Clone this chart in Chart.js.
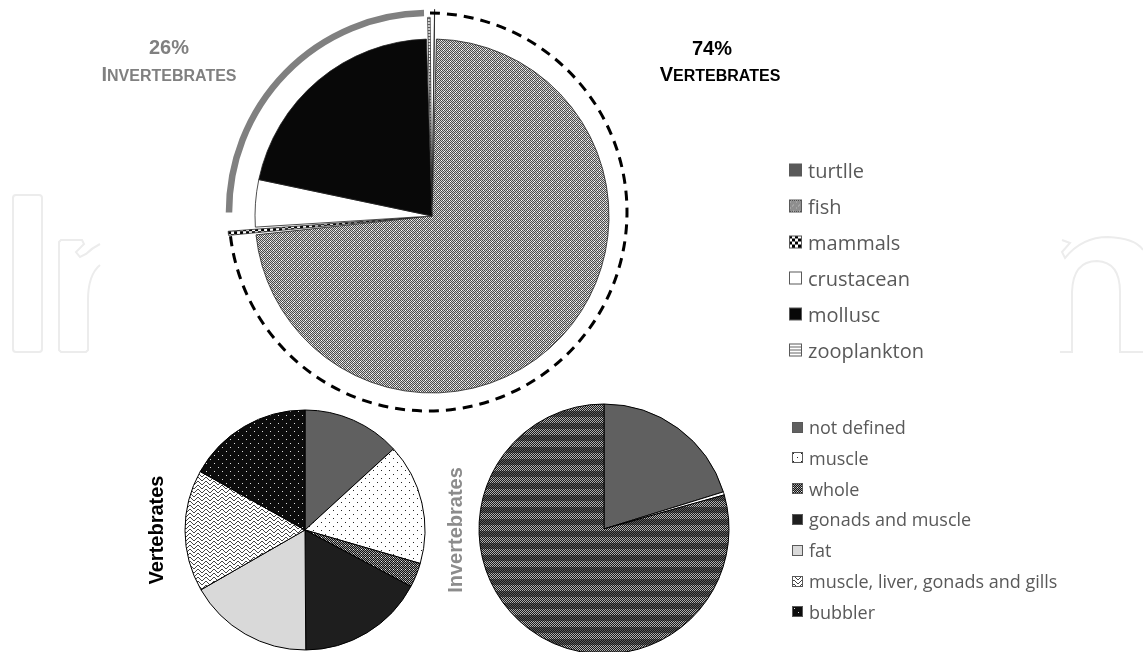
<!DOCTYPE html>
<html lang="en">
<head>
  <meta charset="UTF-8" />
  <title>Vertebrates and invertebrates</title>
  <script src="https://cdn.jsdelivr.net/npm/chart.js"></script>
  <style>
    body { margin: 0; width: 1143px; height: 652px; background: #fff; position: relative; overflow: hidden;
           font-family: 'Liberation Sans', Arial, sans-serif; }
    canvas.abs { position: absolute; }
    .lbl { position: absolute; transform: translate(-50%, -50%); font-weight: bold; white-space: nowrap; }
    .vlabel { position: absolute; transform: translate(-50%, -50%) rotate(-90deg); font-weight: bold;
              font-size: 20px; white-space: nowrap; }
    .legend-item { position: absolute; display: flex; align-items: center; white-space: nowrap;
                   transform: translateY(-50%); font-family: 'Open Sans', sans-serif; color: #595959; }
    .legend-item canvas { margin-right: 6px; }
  </style>
</head>
<body>
  <canvas id="watermark" class="abs" width="1143" height="652" style="left:0;top:0"></canvas>

  <div class="lbl" style="left:169px;top:47px;color:#808080;font-size:20px">26%</div>
  <div class="lbl" style="left:169px;top:74px;color:#808080;font-size:20px">I<span style="font-size:16px;text-transform:uppercase">nvertebrates</span></div>
  <div class="lbl" style="left:712px;top:48px;color:#000;font-size:20px">74%</div>
  <div class="lbl" style="left:720px;top:74px;color:#000;font-size:20px">V<span style="font-size:16px;text-transform:uppercase">ertebrates</span></div>

  <canvas id="mainChart" class="abs" style="left:212px;top:-4px;width:440px;height:440px"></canvas>
  <canvas id="vertChart" class="abs" style="left:180px;top:405px;width:250px;height:250px"></canvas>
  <canvas id="invChart" class="abs" style="left:474px;top:399px;width:260px;height:260px"></canvas>

  <div class="vlabel" style="left:156px;top:530px;color:#000">Vertebrates</div>
  <div class="vlabel" style="left:455px;top:530px;color:#8c8c8c">Invertebrates</div>

  <div id="legendTop"></div>
  <div id="legendBottom"></div>

  <script>
    // ---- data ----
    const mainLabels = ['turtlle', 'fish', 'mammals', 'crustacean', 'mollusc', 'zooplankton'];
    const mainGroups = ['Vertebrates', 'Vertebrates', 'Vertebrates', 'Invertebrates', 'Invertebrates', 'Invertebrates'];
    const mainValues = [0.4, 72.9, 0.7, 4.3, 21.2, 0.5];

    const tissueLabels = ['not defined', 'muscle', 'whole', 'gonads and muscle', 'fat',
                          'muscle, liver, gonads and gills', 'bubbler'];
    const vertebrateTissue = [13.2, 16.3, 3.3, 17.1, 16.8, 16.4, 16.9];
    const invertebrateTissue = [20.2, 0.4, 79.4, 0, 0, 0, 0];

    // ---- fill patterns ----
    function makePattern(w, h, draw) {
      const c = document.createElement('canvas');
      c.width = w; c.height = h;
      const g = c.getContext('2d');
      draw(g);
      return g.createPattern(c, 'repeat');
    }
    function px(g, x, y, col) { g.fillStyle = col; g.fillRect(x, y, 1, 1); }

    const fishFill = makePattern(6, 6, g => {
      g.fillStyle = '#d2d2d2'; g.fillRect(0, 0, 6, 6);
      for (let y = 0; y < 6; y++) for (let x = 0; x < 6; x++) if ((x + y) % 2 === 0) px(g, x, y, '#4a4a4a');
      px(g, 1, 2, '#ffffff'); px(g, 4, 5, '#ffffff'); px(g, 3, 0, '#ffffff');
    });
    const mammalFill = makePattern(6, 6, g => {
      g.fillStyle = '#fff'; g.fillRect(0, 0, 6, 6);
      g.fillStyle = '#000'; g.fillRect(0, 0, 3, 3); g.fillRect(3, 3, 3, 3);
    });
    const zooFill = makePattern(3, 3, g => {
      g.fillStyle = '#fff'; g.fillRect(0, 0, 3, 3);
      g.fillStyle = '#666'; g.fillRect(0, 0, 3, 1);
    });
    const dotsWhite = makePattern(8, 8, g => {
      g.fillStyle = '#fff'; g.fillRect(0, 0, 8, 8);
      px(g, 1, 1, '#222'); px(g, 5, 5, '#222');
    });
    const wholeSmall = makePattern(4, 4, g => {
      g.fillStyle = '#9a9a9a'; g.fillRect(0, 0, 4, 4);
      for (let y = 0; y < 4; y++) for (let x = 0; x < 4; x++) if ((x + y) % 2 === 0) px(g, x, y, '#111');
      px(g, 1, 0, '#eee');
    });
    const wavyFill = makePattern(8, 4, g => {
      g.fillStyle = '#fff'; g.fillRect(0, 0, 8, 4);
      [1, 0, 0, 1, 2, 3, 3, 2].forEach((y, x) => px(g, x, y, '#444'));
    });
    const bubblerFill = makePattern(8, 8, g => {
      g.fillStyle = '#0c0c0c'; g.fillRect(0, 0, 8, 8);
      px(g, 2, 2, '#ddd'); px(g, 6, 6, '#ddd');
    });
    // horizontal bands of fine checker
    const wholeBanded = makePattern(2, 12, g => {
      for (let y = 0; y < 12; y++) for (let x = 0; x < 2; x++) {
        const dark = (x + y) % 2 === 0;
        let col;
        if (y < 6) col = dark ? '#1a1a1a' : '#5a5a5a';
        else col = dark ? '#1a1a1a' : '#b0b0b0';
        px(g, x, y, col);
      }
    });

    const mainFills = ['#595959', fishFill, mammalFill, '#ffffff', '#080808', zooFill];
    const vertFills = ['#606060', dotsWhite, wholeSmall, '#1e1e1e', '#d9d9d9', wavyFill, bubblerFill];
    const invFills = ['#606060', '#ffffff', wholeBanded, '#1e1e1e', '#d9d9d9', wavyFill, bubblerFill];

    // ---- outer ring marking the two groups ----
    const groupRing = {
      id: 'groupRing',
      afterDatasetsDraw(chart, args, opts) {
        const arcs = chart.getDatasetMeta(0).data;
        const ctx = chart.ctx;
        const cx = arcs[0].x + opts.shift, cy = arcs[0].y + opts.shift;
        const r = arcs[0].outerRadius + opts.gap;
        opts.groups.forEach(gr => {
          const idx = mainGroups.map((n, i) => n === gr.name ? i : -1).filter(i => i >= 0);
          const start = arcs[idx[0]].startAngle + gr.padStart;
          const end = arcs[idx[idx.length - 1]].endAngle - gr.padEnd;
          ctx.save();
          ctx.beginPath();
          ctx.arc(cx, cy, r, start, end);
          ctx.lineWidth = gr.width;
          ctx.strokeStyle = gr.color;
          ctx.setLineDash(gr.dash);
          ctx.stroke();
          ctx.restore();
        });
      }
    };

    const baseOptions = {
      responsive: false,
      animation: false,
      events: [],
      plugins: { legend: { display: false }, tooltip: { enabled: false } }
    };

    function sizeCanvas(id) {
      const el = document.getElementById(id);
      el.width = parseInt(el.style.width);
      el.height = parseInt(el.style.height);
      return el;
    }

    new Chart(sizeCanvas('mainChart'), {
      type: 'pie',
      data: {
        labels: mainLabels,
        datasets: [{
          data: mainValues,
          backgroundColor: mainFills,
          borderColor: '#222',
          borderWidth: 0.8,
          offset: [60, 0, 56, 0, 0, 44],
          hoverOffset: 0
        }]
      },
      options: Object.assign({}, baseOptions, {
        radius: 177,
        plugins: Object.assign({}, baseOptions.plugins, {
          groupRing: {
            gap: 22,
            shift: -4,
            groups: [
              { name: 'Vertebrates', color: '#000', width: 3, dash: [10, 7], padStart: 0.01, padEnd: 0.03 },
              { name: 'Invertebrates', color: '#808080', width: 6.5, dash: [], padStart: 0.06, padEnd: 0.02 }
            ]
          }
        })
      }),
      plugins: [groupRing]
    });

    new Chart(sizeCanvas('vertChart'), {
      type: 'pie',
      data: {
        labels: tissueLabels,
        datasets: [{ data: vertebrateTissue, backgroundColor: vertFills, borderColor: '#000', borderWidth: 1 }]
      },
      options: Object.assign({}, baseOptions, { radius: 120 })
    });

    new Chart(sizeCanvas('invChart'), {
      type: 'pie',
      data: {
        labels: tissueLabels,
        datasets: [{ data: invertebrateTissue, backgroundColor: invFills, borderColor: '#000', borderWidth: 1 }]
      },
      options: Object.assign({}, baseOptions, { radius: 125 })
    });

    // ---- legends ----
    function buildLegend(hostId, labels, fills, x, y0, step, fontSize, box) {
      const host = document.getElementById(hostId);
      labels.forEach((lab, i) => {
        const item = document.createElement('div');
        item.className = 'legend-item';
        item.style.left = x + 'px';
        item.style.top = (y0 + i * step) + 'px';
        item.style.fontSize = fontSize + 'px';
        const sw = document.createElement('canvas');
        sw.width = box; sw.height = box;
        const g = sw.getContext('2d');
        g.fillStyle = fills[i];
        g.fillRect(0, 0, box, box);
        g.strokeStyle = '#595959';
        g.lineWidth = 1;
        g.strokeRect(0.5, 0.5, box - 1, box - 1);
        item.appendChild(sw);
        item.appendChild(document.createTextNode(lab));
        host.appendChild(item);
      });
    }
    buildLegend('legendTop', mainLabels, mainFills, 789, 170, 36, 20, 13);
    buildLegend('legendBottom', tissueLabels, vertFills, 792, 427, 30.8, 18, 11);

    // ---- faint publisher watermark in the margins ----
    const wm = document.getElementById('watermark').getContext('2d');
    wm.strokeStyle = '#ececec';
    wm.lineWidth = 2;
    wm.beginPath();
    wm.roundRect(13, 195, 29, 157, 3);
    wm.stroke();
    wm.beginPath();
    wm.moveTo(100, 265); wm.quadraticCurveTo(88, 275, 88, 300); wm.lineTo(88, 350);
    wm.lineTo(86, 352); wm.lineTo(61, 352); wm.lineTo(59, 350); wm.lineTo(59, 242);
    wm.lineTo(61, 240); wm.lineTo(82, 240); wm.lineTo(84, 244); wm.lineTo(76, 252);
    wm.lineTo(80, 257); wm.lineTo(86, 254); wm.quadraticCurveTo(92, 248, 100, 244);
    wm.stroke();
    wm.beginPath();
    wm.moveTo(1060, 352); wm.lineTo(1072, 352); wm.lineTo(1072, 292);
    wm.quadraticCurveTo(1073, 261, 1097, 261); wm.quadraticCurveTo(1120, 262, 1120, 292);
    wm.lineTo(1120, 352); wm.lineTo(1143, 352);
    wm.stroke();
    wm.beginPath();
    wm.moveTo(1062, 240); wm.lineTo(1070, 243); wm.lineTo(1062, 252); wm.lineTo(1065, 258);
    wm.quadraticCurveTo(1082, 237, 1108, 237); wm.quadraticCurveTo(1135, 238, 1143, 250);
    wm.stroke();
  </script>
</body>
</html>
